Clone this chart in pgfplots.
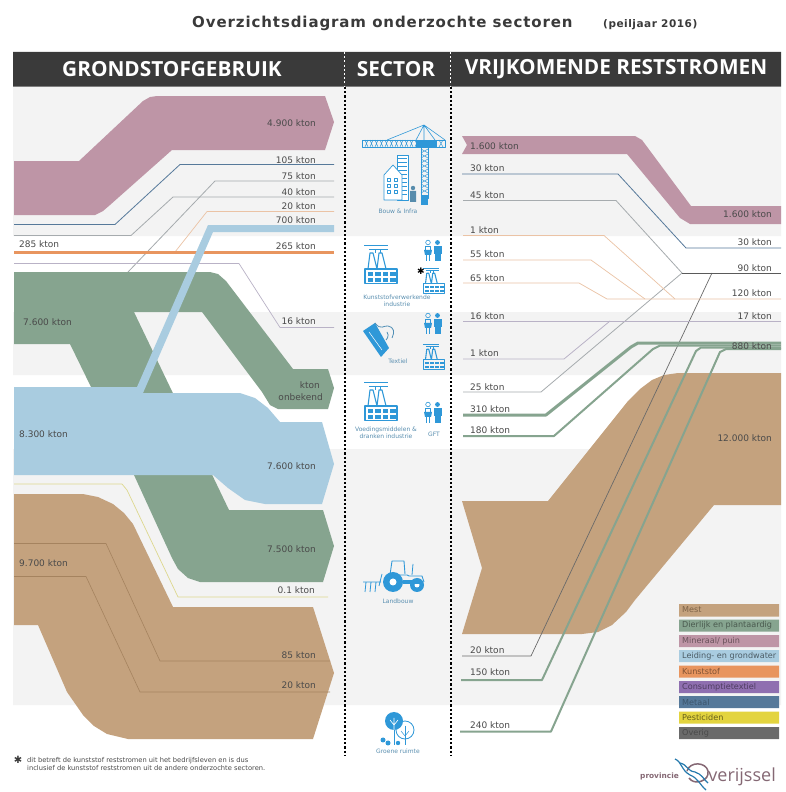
\documentclass[border=0pt]{standalone}
\usepackage{fontspec}
\setmainfont{DejaVu Sans}
\newfontfamily\headfont{Open Sans}
\usepackage{pgfplots}
\pgfplotsset{compat=1.18}

\definecolor{mauve}{HTML}{BE95A6}
\definecolor{groen}{HTML}{86A48F}
\definecolor{lblauw}{HTML}{A9CCE0}
\definecolor{tan}{HTML}{C4A27E}
\definecolor{tandark}{HTML}{A5835F}
\definecolor{oranje}{HTML}{E8955F}
\definecolor{oranjel}{HTML}{EBC3A5}
\definecolor{metaal}{HTML}{56799A}
\definecolor{paars}{HTML}{8F6FB0}
\definecolor{paarsl}{HTML}{B9B2C6}
\definecolor{geel}{HTML}{E3D43F}
\definecolor{geell}{HTML}{DDD88E}
\definecolor{overig}{HTML}{6A6A6A}
\definecolor{lijn}{HTML}{A6ABAE}
\definecolor{band}{HTML}{F3F3F3}
\definecolor{kop}{HTML}{3A3A3A}
\definecolor{tekst}{HTML}{4A4A4A}
\definecolor{icoon}{HTML}{2F98D8}
\definecolor{icotxt}{HTML}{5A8FB0}

% icons, local coordinates in px, y down
\newcommand\icoscope[3]{\begin{scope}[shift={(#1pt,{792pt-#2pt})},x=#3pt,y=-#3pt,draw=icoon,fill=icoon,line join=round]}
\newcommand\factory[3]{\icoscope{#1}{#2}{#3}
  \draw[line width=1pt] (2,0.5)--(26,0.5) (7,4.5)--(26,4.5);
  \draw[line width=1.1pt,fill=none] (3,24)--(3,38.5)--(35,38.5)--(35,24)--cycle;
  \draw[line width=1.1pt,fill=none] (6,24)--(8,8)--(11,8)--(15,24) (15,24)--(17,8)--(20,8)--(24,24);
  \draw[line width=.7pt] (13,4.5)--(13,8) (18,4.5)--(18,8);
  \foreach \r in {27,33}{\foreach \c in {5.5,13,20.5,28}{\fill (\c,\r) rectangle ++(5.5,4);}}
\end{scope}}
\newcommand\people[3]{\icoscope{#1}{#2}{#3}
  \draw[line width=.6pt,fill=none] (4,2.5) circle (2.3);
  \fill (13.5,2.5) circle (2.4);
  \draw[line width=.6pt,fill=none] (1.5,6)--(6.5,6)--(6.5,10) (1.5,6)--(1.5,10);
  \fill (0,10)--(8,10)--(7,15)--(1,15)--cycle;
  \draw[line width=.6pt] (2.5,15)--(2.5,21) (5.5,15)--(5.5,21);
  \fill (10,6) rectangle (17.5,14);
  \fill (11,14) rectangle (16.5,21);
\end{scope}}

\begin{document}
\begin{tikzpicture}
\begin{axis}[
  scale only axis, width=785pt, height=792pt,
  xmin=0, xmax=785, ymin=0, ymax=792, y dir=reverse,
  axis lines=none, clip=false,
  every axis plot/.append style={no markers, forget plot, line join=round},
]
% pagina, houdt de afmeting vast
\addplot[fill=white,draw=none] coordinates {(0,0)(785,0)(785,792)(0,792)(0,0)};
% achtergrondbanden
\addplot[fill=band,draw=none] coordinates {(13,87)(781,87)(781,236)(13,236)(13,87)};
\addplot[fill=band,draw=none] coordinates {(13,312)(781,312)(781,375)(13,375)(13,312)};
\addplot[fill=band,draw=none] coordinates {(13,449)(781,449)(781,705)(13,705)(13,449)};
\addplot[fill=kop,draw=none] coordinates {(13,52)(781,52)(781,86.5)(13,86.5)(13,52)};

% grondstofgebruik
\addplot[fill=mauve,draw=none] coordinates {(14,161)(79,161)(143,101)(150,97)(157,96)(325,96)(334,122)(325,150)(172,150)(110,205)(103,211)(95,215)(14,215)(14,161)};
\addplot[draw=metaal,line width=.8pt] coordinates {(14,224.5)(115,224.5)(180,164.5)(334,164.5)};
\addplot[draw=lijn,line width=.8pt] coordinates {(128,272)(215,181)(334,181)};
\addplot[draw=lijn,line width=.8pt] coordinates {(14,235.5)(131,235.5)(173,197)(334,197)};
\addplot[draw=oranjel,line width=.7pt] coordinates {(175,252)(207,211.5)(334,211.5)};
\addplot[draw=paarsl,line width=.7pt] coordinates {(14,263.5)(239,263.5)(280,327.5)(334,327.5)};
\addplot[fill=groen,draw=none] coordinates {(14,272)(210,272)(218,274)(226,281)(293,369)(328,369)(334,388)(328,409)(278,409)(270,405)(262,392)(202,312)(134,312)(229,510)(323,510)(334,546)(323,582)(200,582)(188,578)(178,569)(172,558)(134,475)(70,344)(14,344)(14,272)};
\addplot[draw=oranje,line width=2.6pt] coordinates {(14,252.3)(334,252.3)};
\addplot[fill=lblauw,draw=none] coordinates {(14,387)(137,387)(208,225)(334,225)(334,232)(213,232)(143,393)(240,393)(255,398)(268,408)(280,422)(322,422)(334,464)(322,504)(265,504)(245,500)(228,488)(213,475)(14,475)(14,387)};
\addplot[draw=geell,line width=.7pt] coordinates {(14,484)(122,484)(127,490)(178,597)(328,597)};
\addplot[fill=tan,draw=none] coordinates {(14,494)(83,494)(98,497)(113,504)(124,513)(133,524)(173,607)(313,607)(334,673)(313,739)(128,739)(107,734)(94,726)(83,715)(67,692)(38,625)(14,625)(14,494)};
\addplot[draw=tandark,line width=.6pt] coordinates {(14,543.5)(106,543.5)(160,661)(330,661)};
\addplot[draw=tandark,line width=.6pt] coordinates {(14,576.5)(86,576.5)(140,692)(330,692)};

% reststromen
\addplot[fill=mauve,draw=none] coordinates {(462,136)(635,136)(642,140)(691,206)(781,206)(781,224)(690,224)(680,218)(627,154)(462,154)(467,145)(462,136)};
\addplot[fill=tan,draw=none] coordinates {(462,501)(548,501)(628,401)(640,389)(652,380)(664,375)(678,373)(781,373)(781,505)(714,505)(635,600)(626,612)(612,625)(598,632)(582,634)(462,634)(482,568)(462,501)};
\addplot[draw=metaal,line width=.8pt] coordinates {(462,174)(618,174)(686,248)(781,248)};
\addplot[draw=lijn,line width=.8pt] coordinates {(463,200.5)(616,200.5)(682,273)};
\addplot[draw=lijn,line width=.8pt] coordinates {(463,392)(541,392)(682,273)};
\addplot[draw=overig,line width=.7pt] coordinates {(462,656)(531,656)(712,273)};
\addplot[draw=overig!85!black,line width=.8pt] coordinates {(682,273)(781,273)};
\addplot[draw=oranjel,line width=.7pt] coordinates {(463,235.5)(604,235.5)(675,299)};
\addplot[draw=oranjel,line width=.7pt] coordinates {(463,260)(591,260)(645,299)};
\addplot[draw=oranjel,line width=.7pt] coordinates {(463,283)(579,283)(607,299)(781,299)};
\addplot[draw=paarsl,line width=.8pt] coordinates {(463,321)(781,321)};
\addplot[draw=paarsl,line width=.8pt] coordinates {(463,359)(564,359)(610,321)};
\addplot[draw=groen,line width=3pt] coordinates {(463,415)(546,415)(631,347)(638,343)(781,343)};
\addplot[draw=groen,line width=2pt] coordinates {(463,436)(554,436)(653,349)(660,345.5)(781,345.5)};
\addplot[draw=groen,line width=2pt] coordinates {(461,680)(542,680)(696,351)(701,347.5)(781,347.5)};
\addplot[draw=groen,line width=2pt] coordinates {(460,731.5)(551,731.5)(720,352)(726,349)(781,349)};

% sector scheidingen
\addplot[draw=black,line width=2pt,dash pattern=on 2.2pt off 2pt] coordinates {(344.5,87)(344.5,755)};
\addplot[draw=black,line width=2pt,dash pattern=on 2.2pt off 2pt] coordinates {(450.5,87)(450.5,755)};
\addplot[draw=white,line width=1pt,dash pattern=on 2pt off 2.2pt] coordinates {(344.5,52)(344.5,86)};
\addplot[draw=white,line width=1pt,dash pattern=on 2pt off 2.2pt] coordinates {(450.5,52)(450.5,86)};

% legenda
\addplot[fill=tan,draw=none] coordinates {(679,604)(779,604)(779,616.5)(679,616.5)(679,604)};
\addplot[fill=groen,draw=none] coordinates {(679,619.5)(779,619.5)(779,631.5)(679,631.5)(679,619.5)};
\addplot[fill=mauve,draw=none] coordinates {(679,635)(779,635)(779,647)(679,647)(679,635)};
\addplot[fill=lblauw,draw=none] coordinates {(679,650)(779,650)(779,662)(679,662)(679,650)};
\addplot[fill=oranje,draw=none] coordinates {(679,665.5)(779,665.5)(779,677.5)(679,677.5)(679,665.5)};
\addplot[fill=paars,draw=none] coordinates {(679,681)(779,681)(779,693)(679,693)(679,681)};
\addplot[fill=metaal,draw=none] coordinates {(679,696)(779,696)(779,708)(679,708)(679,696)};
\addplot[fill=geel,draw=none] coordinates {(679,711.5)(779,711.5)(779,723.5)(679,723.5)(679,711.5)};
\addplot[fill=overig,draw=none] coordinates {(679,727)(779,727)(779,739)(679,739)(679,727)};

\begin{scope}[every node/.style={font=\fontsize{8.1}{9}\selectfont,anchor=west,inner sep=0pt}]
\node[text=tandark!75!black] at (axis cs:682,610) {Mest};
\node[text=groen!55!black] at (axis cs:682,625.5) {Dierlijk en plantaardig};
\node[text=mauve!55!black] at (axis cs:682,641) {Mineraal/ puin};
\node[text=lblauw!45!black] at (axis cs:682,656) {Leiding- en grondwater};
\node[text=oranje!55!black] at (axis cs:682,671.5) {Kunststof};
\node[text=paars!55!black] at (axis cs:682,687) {Consumptietextiel};
\node[text=metaal!70!black] at (axis cs:682,702) {Metaal};
\node[text=geel!45!black] at (axis cs:682,717.5) {Pesticiden};
\node[text=overig!70!black] at (axis cs:682,733) {Overig};
\end{scope}

% titels
\node[font=\bfseries\fontsize{15}{18}\selectfont\addfontfeatures{LetterSpace=6},text=kop,anchor=west,inner sep=0pt] at (axis cs:192,23) {Overzichtsdiagram onderzochte sectoren};
\node[font=\bfseries\fontsize{10.5}{12}\selectfont\addfontfeatures{LetterSpace=5},text=kop,anchor=west,inner sep=0pt] at (axis cs:603,25) {(peiljaar 2016)};
\node[font=\headfont\bfseries\fontsize{20.8}{24}\selectfont,text=white,inner sep=0pt] at (axis cs:172,69.5) {GRONDSTOFGEBRUIK};
\node[font=\headfont\bfseries\fontsize{20.8}{24}\selectfont,text=white,inner sep=0pt] at (axis cs:396,69.5) {SECTOR};
\node[font=\headfont\bfseries\fontsize{20.8}{24}\selectfont,text=white,inner sep=0pt] at (axis cs:616,69.5) {VRIJKOMENDE RESTSTROMEN};

% waarden links
\begin{scope}[every node/.style={font=\fontsize{9}{11}\selectfont,text=tekst,anchor=east,inner sep=0pt}]
\node at (axis cs:316,123) {4.900 kton};
\node at (axis cs:316,160) {105 kton};
\node at (axis cs:316,176) {75 kton};
\node at (axis cs:316,192) {40 kton};
\node at (axis cs:316,206.5) {20 kton};
\node at (axis cs:316,220) {700 kton};
\node at (axis cs:316,246.5) {265 kton};
\node at (axis cs:316,321.5) {16 kton};
\node at (axis cs:320,385) {kton};
\node at (axis cs:323,397) {onbekend};
\node at (axis cs:316,466) {7.600 kton};
\node at (axis cs:316,549) {7.500 kton};
\node at (axis cs:315,590) {0.1 kton};
\node at (axis cs:316,655) {85 kton};
\node at (axis cs:316,685) {20 kton};
\node at (axis cs:772,214.5) {1.600 kton};
\node at (axis cs:772,242) {30 kton};
\node at (axis cs:772,268.5) {90 kton};
\node at (axis cs:772,293.5) {120 kton};
\node at (axis cs:772,316.5) {17 kton};
\node at (axis cs:772,346) {880 kton};
\node at (axis cs:772,438.5) {12.000 kton};
\end{scope}
\begin{scope}[every node/.style={font=\fontsize{9}{11}\selectfont,text=tekst,anchor=west,inner sep=0pt}]
\node at (axis cs:19,244.5) {285 kton};
\node at (axis cs:23,322) {7.600 kton};
\node at (axis cs:19,434.5) {8.300 kton};
\node at (axis cs:19,563) {9.700 kton};
\node at (axis cs:470,146) {1.600 kton};
\node at (axis cs:470,168) {30 kton};
\node at (axis cs:470,195.5) {45 kton};
\node at (axis cs:470,230) {1 kton};
\node at (axis cs:470,254.5) {55 kton};
\node at (axis cs:470,278) {65 kton};
\node at (axis cs:470,316.5) {16 kton};
\node at (axis cs:470,353) {1 kton};
\node at (axis cs:470,387) {25 kton};
\node at (axis cs:470,409) {310 kton};
\node at (axis cs:470,430) {180 kton};
\node at (axis cs:470,650.5) {20 kton};
\node at (axis cs:470,672) {150 kton};
\node at (axis cs:470,725) {240 kton};
\end{scope}

% sector namen
\begin{scope}[every node/.style={font=\fontsize{6}{7.4}\selectfont,text=icotxt,inner sep=0pt,align=center}]
\node at (axis cs:398,211) {Bouw \& Infra};
\node at (axis cs:397,300.5) {Kunststofverwerkende\\industrie};
\node at (axis cs:398,361) {Textiel};
\node at (axis cs:386,433) {Voedingsmiddelen \&\\dranken industrie};
\node at (axis cs:434,434) {GFT};
\node at (axis cs:398,601) {Landbouw};
\node at (axis cs:398,751) {Groene ruimte};
\end{scope}

% voetnoot
\node[font=\fontsize{6.7}{8}\selectfont,text=tekst,anchor=north west,inner sep=0pt,align=left] at (axis cs:27,757) {dit betreft de kunststof reststromen uit het bedrijfsleven en is dus\\inclusief de kunststof reststromen uit de andere onderzochte sectoren.};
\node[font=\bfseries\fontsize{10}{10}\selectfont,text=kop,inner sep=0pt] at (axis cs:18,760) {✱};

% logo
\node[font=\bfseries\fontsize{7.4}{9}\selectfont,text=mauve!70!black,anchor=east,inner sep=0pt] at (axis cs:679,776) {provincie};
\node[font=\headfont\fontsize{18}{20}\selectfont,text=mauve!70!black,anchor=east,inner sep=0pt] at (axis cs:776,777) {verijssel};
\end{axis}

% iconen: bouw
\icoscope{340}{120}{1}
  \draw[line width=.6pt] (84,5)--(47,20) (84,5)--(76,20) (84,5)--(84,20) (84,5)--(95,20) (84,5)--(105,20);
  \fill (76,20) rectangle (97,27);
  \draw[line width=.8pt,fill=none] (22,20) rectangle (105,27);
  \foreach \x in {25,30,...,75}{\draw[line width=.5pt] (\x,20)--(\x+3,27) (\x+3,20)--(\x,27);}
  \draw[line width=.5pt] (99,20)--(103,27) (103,20)--(99,27);
  \draw[line width=.8pt,fill=none] (81,27) rectangle (88,78);
  \foreach \y in {29,34,...,70}{\draw[line width=.5pt] (81,\y)--(88,\y+4) (88,\y)--(81,\y+4);}
  \fill (81,75) rectangle (88,85);
  \draw[line width=.7pt,fill=white] (57,35) rectangle (68,80);
  \foreach \y in {38,42,...,76}{\draw[line width=.5pt] (58,\y)--(67,\y);}
  \draw[line width=.7pt,fill=white] (44,80)--(44,55)--(53,45)--(62,55)--(62,80)--cycle;
  \foreach \y in {58,64,70}{\foreach \x in {47,54}{\draw[line width=.4pt,fill=none] (\x,\y) rectangle ++(3.5,3.5);}}
  \fill[icoon!50!gray] (73,68) circle (2.2) (70,71) rectangle (76,82);
\end{scope}
% iconen: fabrieken en mensen
\factory{362}{245}{1}
\factory{362}{382}{1}
\factory{421.5}{268}{.66}
\factory{421.5}{344}{.66}
\people{424}{240}{1}
\people{424}{313}{1}
\people{424}{402}{1}
\node[font=\bfseries\fontsize{9}{9}\selectfont,text=black,inner sep=0pt] at (421pt,{792pt-271pt}) {✱};
% textiel
\icoscope{340}{300}{1}
  \fill (23,31)--(35,23)--(49,48)--(41,57)--cycle;
  \draw[draw=white,line width=.5pt] (29,32)--(42,50);
  \draw[line width=.8pt,draw=icoon!60!gray,fill=none] (35,23) .. controls (41,31) and (44,25) .. (48,26) .. controls (54,27) and (55,32) .. (52,38) (47,32) .. controls (50,36) and (46,40) .. (46,40);
\end{scope}
% tractor
\icoscope{363}{558}{1}
  \draw[line width=.9pt,fill=none] (27,17)--(29,3)--(41,3)--(42,16);
  \draw[line width=.9pt,fill=none] (28,17)--(44,17)--(46,18)--(59,18)--(61,24);
  \draw[line width=.8pt] (49,17)--(50,6);
  \fill (30,24) circle (10);
  \fill[white] (30,24) circle (3.5);
  \fill (54,27) circle (7);
  \fill[white] (54,27) circle (2.5);
  \fill (40,22) rectangle (58,26);
  \draw[line width=.8pt,fill=none] (0,24)--(18,24) (19,16)--(16,28) (3,24)--(2,34) (8,24)--(7,34) (13,24)--(12,34);
\end{scope}
% groene ruimte
\icoscope{380}{710}{1}
  \fill (14,11) circle (9);
  \draw[line width=.8pt,fill=none] (25,20) circle (9);
  \draw[line width=.8pt] (14,14)--(14,35) (25,16)--(25,35);
  \draw[draw=white,line width=.6pt] (14,20)--(14,8) (14,15)--(10,10) (14,15)--(18,10);
  \draw[line width=.5pt] (25,26)--(21,21) (25,26)--(29,21);
  \fill (3,30) circle (2.5) (8,33) circle (2.5) (18,33) circle (2.2);
\end{scope}
% logo golf
\begin{scope}[shift={(0pt,792pt)},x=1pt,y=-1pt]
  \draw[draw=mauve!70!black,line width=1.5pt] (687,771) .. controls (690,761) and (706,762) .. (708,771) .. controls (710,781) and (694,786) .. (689,778);
  \draw[draw=icoon!80!black,line width=1.2pt] (675,759) .. controls (682,762) and (681,770) .. (690,775) .. controls (698,778) and (700,785) .. (706,790);
  \draw[draw=icoon!80!black,line width=1.2pt] (680,763) .. controls (688,765) and (687,771) .. (695,772) .. controls (702,774) and (704,780) .. (708,783);
\end{scope}
\end{tikzpicture}
\end{document}
